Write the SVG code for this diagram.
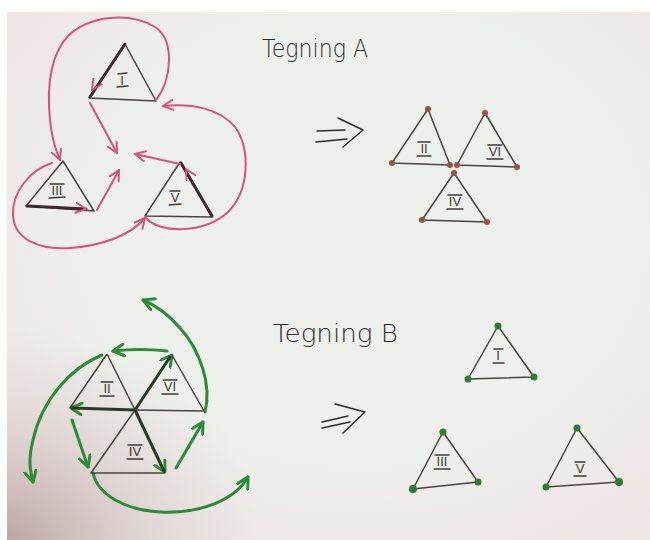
<svg xmlns="http://www.w3.org/2000/svg" width="650" height="540" viewBox="0 0 650 540">
<defs>
<radialGradient id="vign" cx="0.55" cy="0.42" r="0.72">
<stop offset="0.6" stop-color="#f0dfdf" stop-opacity="0"/>
<stop offset="1" stop-color="#f0dfdf" stop-opacity="0.75"/>
</radialGradient>
<radialGradient id="corner" cx="0" cy="1" r="0.4">
<stop offset="0" stop-color="#b3a09d" stop-opacity="0.9"/>
<stop offset="0.5" stop-color="#c8b8b6" stop-opacity="0.4"/>
<stop offset="1" stop-color="#d8cccb" stop-opacity="0"/>
</radialGradient>
<marker id="pk" viewBox="0 0 12 12" refX="11" refY="6" markerWidth="12" markerHeight="12" markerUnits="userSpaceOnUse" orient="auto">
<path d="M1,1 L11,6 L1,11" fill="none" stroke="#d9527d" stroke-width="2" stroke-linecap="round" stroke-linejoin="round"/>
</marker>
<marker id="gr" viewBox="0 0 14 14" refX="12" refY="7" markerWidth="14" markerHeight="14" markerUnits="userSpaceOnUse" orient="auto">
<path d="M1,1 L12,7 L1,13" fill="none" stroke="#2e8a3a" stroke-width="3" stroke-linecap="round" stroke-linejoin="round"/>
</marker>
<style>
.tri{fill:none;stroke:#4a4440;stroke-width:1.5;stroke-linejoin:round}
.thick{fill:none;stroke:#3a2a2a;stroke-width:3;stroke-linecap:round}
.thickg{fill:none;stroke:#263a26;stroke-width:3;stroke-linecap:round}
.pink{fill:none;stroke:#d9527d;stroke-width:2;stroke-linecap:round}
.green{fill:none;stroke:#2e8a3a;stroke-width:3;stroke-linecap:round}
.lbl{font-family:"Liberation Sans",sans-serif;font-size:13px;fill:#3d3a36;text-anchor:middle}
.bar{fill:none;stroke:#3d3a36;stroke-width:1.3;stroke-linecap:round}
.title{font-family:"DejaVu Sans",sans-serif;font-size:24px;fill:#2e2c2a;font-weight:300}
.imp{fill:none;stroke:#2e2c2a;stroke-width:1.5;stroke-linecap:round;stroke-linejoin:round}
.rd{fill:#9c5048}
.gd{fill:#2f7a34}
</style>
</defs>
<rect x="0" y="0" width="650" height="540" fill="#ffffff"/>
<rect x="7" y="12" width="643" height="528" fill="#eef0ec"/>
<rect x="7" y="12" width="643" height="528" fill="url(#vign)"/>
<rect x="7" y="12" width="643" height="528" fill="url(#corner)"/>

<!-- Titles -->
<text class="title" x="262" y="57" textLength="106" lengthAdjust="spacingAndGlyphs">Tegning A</text>
<text class="title" x="273" y="342" textLength="125" lengthAdjust="spacingAndGlyphs">Tegning B</text>

<!-- implication arrows -->
<g id="implies-a">
<path class="imp" d="M317,131 L345,130 M316,142 L347,139 M338,118 L363,130 L343,147"/>
</g>
<g id="implies-b">
<path class="imp" d="M322,422 L348,416 M322,428 L350,422 M335,404 L365,412 L343,433"/>
</g>

<!-- Drawing A left -->
<g id="tri-a-I">
<path class="tri" d="M125,44 L89,98 L156,101 Z"/>
<path class="thick" d="M125,44 L90,97"/>
<text class="lbl" x="122" y="85">I</text>
<path class="bar" d="M118,74 L127,73 M117,87 L128,86"/>
</g>
<g id="tri-a-III">
<path class="tri" d="M63,161 L26,206 L94,211 Z"/>
<path class="thick" d="M27,206 L86,209"/>
<text class="lbl" x="57" y="195">III</text>
<path class="bar" d="M50,184 L64,184 M49,198 L65,197"/>
</g>
<g id="tri-a-V">
<path class="tri" d="M180,162 L145,216 L212,217 Z"/>
<path class="thick" d="M181,163 L212,216"/>
<text class="lbl" x="175" y="202">V</text>
<path class="bar" d="M170,191 L180,191 M169,205 L181,204"/>
</g>

<g id="connectors">
<!-- pink edge arrowheads -->
<path d="M96,84 L92,90" stroke="none" fill="none" marker-end="url(#pk)"/>
<path d="M78,208 L86,209" stroke="none" fill="none" marker-end="url(#pk)"/>
<path d="M190,176 L186,169" stroke="none" fill="none" marker-end="url(#pk)"/>
<!-- pink center arrows -->
<path class="pink" d="M90,103 L117,153" marker-end="url(#pk)"/>
<path class="pink" d="M97,210 L119,170" marker-end="url(#pk)"/>
<path class="pink" d="M180,164 L135,154" marker-end="url(#pk)"/>
<!-- pink curves -->
<path class="pink" d="M156,100 C172,80 175,40 155,27 C130,12 90,15 68,36 C46,60 48,100 50,120 C52,140 56,150 60,160" marker-end="url(#pk)"/>
<path class="pink" d="M52,163 C30,170 12,192 13,215 C14,240 40,250 70,248 C100,246 130,236 145,218" marker-end="url(#pk)"/>
<path class="pink" d="M145,217 C160,235 205,233 228,212 C250,190 250,150 236,128 C220,108 190,103 163,106" marker-end="url(#pk)"/>

<!-- green edge/short arrows -->
<path class="green" d="M167,351 Q140,348 113,351" marker-end="url(#gr)"/>
<path class="green" d="M72,420 L88,467" marker-end="url(#gr)"/>
<path class="green" d="M176,468 L203,422" marker-end="url(#gr)"/>
<path d="M82,409 L71,408" stroke="none" fill="none" marker-end="url(#gr)"/>
<path d="M166,363 L172,355" stroke="none" fill="none" marker-end="url(#gr)"/>
<path d="M160,463 L165,472" stroke="none" fill="none" marker-end="url(#gr)"/>
<!-- green curves -->
<path class="green" d="M102,355 C70,368 42,400 33,440 C28,460 30,470 33,482" marker-end="url(#gr)"/>
<path class="green" d="M205,412 C212,385 200,350 180,328 C168,314 155,305 143,300" marker-end="url(#gr)"/>
<path class="green" d="M93,473 C98,495 125,510 160,512 C200,514 235,500 248,477" marker-end="url(#gr)"/>
</g>

<!-- Drawing A right -->
<g id="tri-a-II">
<path class="tri" d="M428,109 L392,163 L450,165 Z"/>
<circle class="rd" cx="428" cy="109" r="3"/><circle class="rd" cx="392" cy="163" r="3"/><circle class="rd" cx="450" cy="165" r="3"/>
<text class="lbl" x="424" y="153">II</text>
<path class="bar" d="M418,142 L430,142 M417,156 L431,156"/>
</g>
<g id="tri-a-VI">
<path class="tri" d="M485,113 L457,165 L517,167 Z"/>
<circle class="rd" cx="485" cy="113" r="3"/><circle class="rd" cx="457" cy="165" r="3"/><circle class="rd" cx="517" cy="167" r="3"/>
<text class="lbl" x="495" y="156">VI</text>
<path class="bar" d="M488,145 L502,145 M487,159 L503,159"/>
</g>
<g id="tri-a-IV">
<path class="tri" d="M454,173 L422,220 L487,222 Z"/>
<circle class="rd" cx="454" cy="173" r="3"/><circle class="rd" cx="422" cy="220" r="3"/><circle class="rd" cx="487" cy="222" r="3"/>
<text class="lbl" x="455" y="206">IV</text>
<path class="bar" d="M448,195 L462,195 M447,209 L463,209"/>
</g>

<!-- Drawing B left (hexagon) -->
<g id="tri-b-II">
<path class="tri" d="M107,354 L70,408 M107,354 L135,410"/>
<path class="thickg" d="M135,410 L72,408"/>
<text class="lbl" x="107" y="393">II</text>
<path class="bar" d="M101,382 L113,382 M100,396 L114,396"/>
</g>
<g id="tri-b-VI">
<path class="tri" d="M172,355 L204,411 M135,410 L204,411"/>
<path class="thickg" d="M135,410 L170,357"/>
<text class="lbl" x="170" y="391">VI</text>
<path class="bar" d="M163,380 L177,380 M162,394 L178,394"/>
</g>
<g id="tri-b-IV">
<path class="tri" d="M135,410 L91,473 L165,473"/>
<path class="thickg" d="M135,410 L164,471"/>
<text class="lbl" x="135" y="456">IV</text>
<path class="bar" d="M128,445 L142,445 M127,459 L143,459"/>
</g>

<!-- Drawing B right -->
<g id="tri-b-I">
<path class="tri" d="M498,326 L468,379 L534,377 Z"/>
<circle class="gd" cx="498" cy="326" r="3.5"/><circle class="gd" cx="468" cy="379" r="3.5"/><circle class="gd" cx="534" cy="377" r="3.5"/>
<text class="lbl" x="498" y="360">I</text>
<path class="bar" d="M494,349 L503,349 M493,363 L504,363"/>
</g>
<g id="tri-b-III">
<path class="tri" d="M443,432 L413,489 L478,482 Z"/>
<circle class="gd" cx="443" cy="432" r="3.5"/><circle class="gd" cx="413" cy="489" r="4"/><circle class="gd" cx="478" cy="482" r="3.5"/>
<text class="lbl" x="442" y="466">III</text>
<path class="bar" d="M435,455 L449,455 M434,469 L450,469"/>
</g>
<g id="tri-b-V">
<path class="tri" d="M577,428 L546,487 L619,482 Z"/>
<circle class="gd" cx="577" cy="428" r="3.5"/><circle class="gd" cx="546" cy="487" r="3.5"/><circle class="gd" cx="619" cy="482" r="4"/>
<text class="lbl" x="580" y="473">V</text>
<path class="bar" d="M575,462 L585,462 M574,476 L586,476"/>
</g>
</svg>
